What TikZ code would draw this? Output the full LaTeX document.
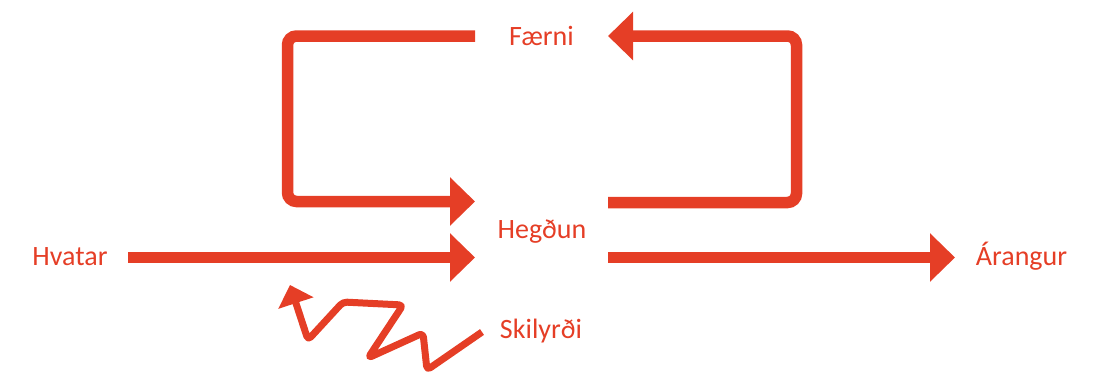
\documentclass[tikz,border=0pt]{standalone}
\usepackage{fontspec}
\setmainfont{Carlito}
\usetikzlibrary{arrows.meta}
\definecolor{flowred}{RGB}{229,62,38}

\tikzset{
	label/.style={text=flowred, font=\fontsize{28}{34}\selectfont, anchor=base, inner sep=0pt},
	bigarrow/.style={draw=flowred, line width=11.5, -{Triangle[length=25,width=47]}},
	loop/.style={bigarrow, rounded corners=9},
	wiggle/.style={draw=flowred, line width=7, line join=round, rounded corners=4, -{Triangle[length=19,width=36]}}
}

\begin{document}
\begin{tikzpicture}[x=1pt,y=-1pt]
		\useasboundingbox (0,0) rectangle (1095,375);
		% texts
		\node[label] (faerni) at (541.5,45) {Færni};
		\node[label] (hegdun) at (542,238) {Hegðun};
		\node[label] (hvatar) at (70,265) {Hvatar};
		\node[label] (arangur) at (1021.5,265) {Árangur};
		\node[label] (skilyrdi) at (541,338) {Skilyrði};
		% arrow ends
		\coordinate (h1) at (128,257.5);
		\coordinate (h2) at (475,257.5);
		\coordinate (a1) at (608,257.5);
		\coordinate (a2) at (955,257.5);
		\coordinate (l1) at (475,36);
		\coordinate (l2) at (287.5,36);
		\coordinate (l3) at (287.5,201.5);
		\coordinate (l4) at (475,201.5);
		\coordinate (r1) at (608,202.5);
		\coordinate (r2) at (796.5,202.5);
		\coordinate (r3) at (796.5,36);
		\coordinate (r4) at (608,36);
		\coordinate (s0) at (482,332);
		\coordinate (s7) at (290,285);
		% arrows
		\draw [bigarrow] (h1) -- (h2);
		\draw [bigarrow] (a1) -- (a2);
		\draw [loop] (l1) -- (l2) -- (l3) -- (l4);
		\draw [loop] (r1) -- (r2) -- (r3) -- (r4);
		\draw [wiggle] (s0) -- (427,370) -- (423,333) -- (368,358) -- (403,305) -- (343,302) -- (308,340) -- (s7);
	\end{tikzpicture}
\end{document}
